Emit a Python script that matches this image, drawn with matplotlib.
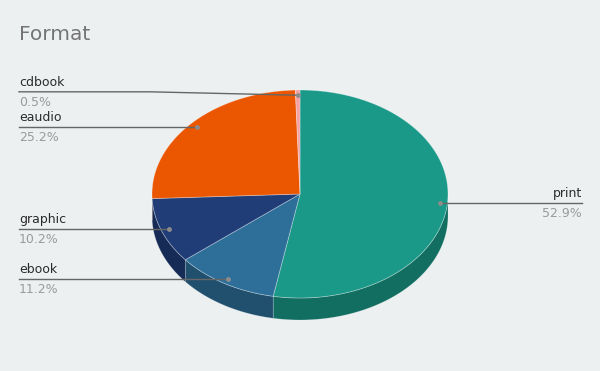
import numpy as np
import matplotlib.pyplot as plt
from matplotlib.patches import Polygon

# chart data
formats = ['print', 'ebook', 'graphic', 'eaudio', 'cdbook']
shares = [52.9, 11.2, 10.2, 25.2, 0.5]
top_colors = ['#1a9988', '#2e6f9a', '#203d78', '#eb5600', '#f6a1a1']
side_colors = ['#136e62', '#21506f', '#172b57', '#a83e00', '#b07070']
title = 'Format'

BG = '#ecf0f1'

# pie geometry (pixels)
cx, cy = 300, 194
rx, ry = 148, 104
depth = 22


def ellipse_pt(theta_deg, r=1.0, dy=0.0):
    t = np.radians(theta_deg)
    return cx + r * rx * np.sin(t), cy - r * ry * np.cos(t) + dy


def main():
    fig = plt.figure(figsize=(6, 3.71), dpi=100)
    fig.patch.set_facecolor(BG)
    ax = fig.add_axes([0, 0, 1, 1])
    ax.set_xlim(0, 600)
    ax.set_ylim(371, 0)
    ax.axis('off')

    total = sum(shares)
    bounds = np.concatenate([[0], np.cumsum(shares) / total * 360])

    # side walls (front half only)
    for i in range(len(formats)):
        a0, a1 = max(bounds[i], 90), min(bounds[i + 1], 270)
        if a1 <= a0:
            continue
        th = np.linspace(a0, a1, 80)
        xs, ys = ellipse_pt(th)
        xb, yb = ellipse_pt(th[::-1], dy=depth)
        pts = np.column_stack([np.concatenate([xs, xb]), np.concatenate([ys, yb])])
        ax.add_patch(Polygon(pts, closed=True, facecolor=side_colors[i],
                             edgecolor=(1, 1, 1, 0.25), lw=0.5))

    # top faces
    for i in range(len(formats)):
        th = np.linspace(bounds[i], bounds[i + 1], 120)
        xs, ys = ellipse_pt(th)
        pts = np.column_stack([np.concatenate([[cx], xs]), np.concatenate([[cy], ys])])
        ax.add_patch(Polygon(pts, closed=True, facecolor=top_colors[i],
                             edgecolor=(1, 1, 1, 0.35), lw=0.6))

    # labels with leader lines
    mids = (bounds[:-1] + bounds[1:]) / 2
    dots = [ellipse_pt(m, r=0.95) for m in mids]
    label_y = [d[1] for d in dots]
    left = [i for i in range(len(formats)) if np.sin(np.radians(mids[i])) < 0]
    # keep left labels apart
    left_sorted = sorted(left, key=lambda k: label_y[k], reverse=True)
    for a, b in zip(left_sorted, left_sorted[1:]):
        if label_y[a] - label_y[b] < 35:
            label_y[b] = label_y[a] - 35

    for i, name in enumerate(formats):
        dx, dy = dots[i]
        ly = label_y[i]
        if i in left:
            lx, bend, ha = 19, cx - rx - 2, 'left'
        else:
            lx, bend, ha = 582, cx + rx + 2, 'right'
        ax.plot([lx, bend, dx], [ly, ly, dy], color='#666666', lw=1, zorder=3)
        ax.plot(dx, dy, 'o', ms=3.5, color='#8c8c8c', mec='none', zorder=4)
        ax.text(lx, ly - 3, name, ha=ha, va='bottom', fontsize=9,
                color='#2b2b2b', family='DejaVu Sans')
        ax.text(lx, ly + 4, f'{shares[i] / total * 100:.1f}%', ha=ha, va='top',
                fontsize=9, color='#9a9a9a', family='DejaVu Sans')

    ax.text(19, 40, title, ha='left', va='baseline', fontsize=14.5,
            color='#757575', family='DejaVu Sans')

    fig.savefig('out.png', dpi=100, facecolor=BG)


if __name__ == '__main__':
    main()
